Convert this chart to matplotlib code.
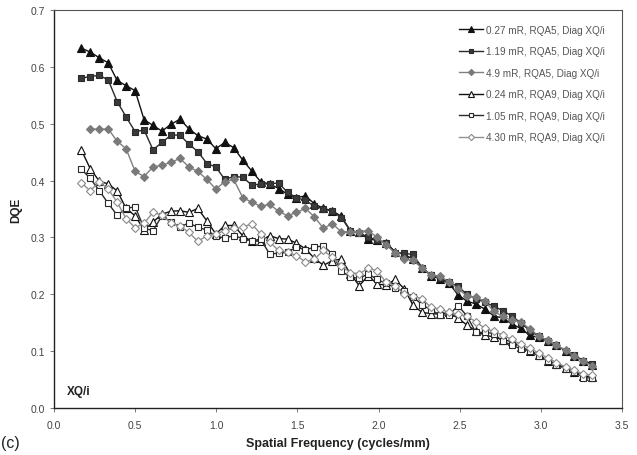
import numpy as np
import matplotlib.pyplot as plt

plt.rcParams['font.family'] = ['Liberation Sans', 'DejaVu Sans']

freq = [0.168, 0.223, 0.279, 0.334, 0.389, 0.444, 0.500, 0.555, 0.610, 0.665,
        0.721, 0.776, 0.831, 0.886, 0.942, 0.997, 1.052, 1.107, 1.163, 1.218,
        1.273, 1.328, 1.384, 1.439, 1.494, 1.549, 1.605, 1.660, 1.715, 1.770,
        1.826, 1.881, 1.936, 1.991, 2.047, 2.102, 2.157, 2.212, 2.268, 2.323,
        2.378, 2.433, 2.489, 2.544, 2.599, 2.654, 2.710, 2.765, 2.820, 2.875,
        2.931, 2.986, 3.041, 3.096, 3.152, 3.207, 3.262, 3.317]

# RQA5
dqe_027 = [0.633, 0.626, 0.616, 0.607, 0.576, 0.567, 0.558, 0.507, 0.497, 0.487,
           0.499, 0.508, 0.491, 0.479, 0.473, 0.456, 0.467, 0.458, 0.436, 0.417,
           0.398, 0.394, 0.386, 0.376, 0.370, 0.373, 0.359, 0.351, 0.347, 0.337,
           0.312, 0.309, 0.297, 0.295, 0.290, 0.275, 0.270, 0.262, 0.246, 0.233,
           0.227, 0.220, 0.199, 0.188, 0.183, 0.174, 0.162, 0.158, 0.148, 0.140,
           0.128, 0.124, 0.117, 0.110, 0.101, 0.091, 0.083, 0.076]
dqe_119 = [0.580, 0.583, 0.585, 0.577, 0.539, 0.512, 0.486, 0.489, 0.454, 0.467,
           0.480, 0.480, 0.464, 0.451, 0.430, 0.424, 0.402, 0.407, 0.406, 0.392,
           0.394, 0.394, 0.396, 0.379, 0.370, 0.365, 0.355, 0.350, 0.346, 0.335,
           0.312, 0.308, 0.300, 0.296, 0.291, 0.273, 0.272, 0.270, 0.247, 0.234,
           0.228, 0.221, 0.214, 0.200, 0.192, 0.186, 0.179, 0.171, 0.162, 0.150,
           0.136, 0.126, 0.118, 0.110, 0.101, 0.093, 0.083, 0.078]
dqe_49 = [np.nan, 0.491, 0.490, 0.491, 0.469, 0.456, 0.416, 0.407, 0.424, 0.427,
          0.432, 0.439, 0.424, 0.416, 0.402, 0.385, 0.398, 0.402, 0.370, 0.362,
          0.355, 0.358, 0.346, 0.338, 0.344, 0.351, 0.336, 0.316, 0.324, 0.310,
          0.310, 0.310, 0.312, 0.300, 0.287, 0.272, 0.262, 0.260, 0.246, 0.234,
          0.232, 0.222, 0.210, 0.197, 0.195, 0.188, 0.170, 0.161, 0.154, 0.152,
          0.139, 0.127, 0.119, 0.110, 0.102, 0.091, 0.082, 0.074]
# RQA9
dqe_024 = [0.454, 0.421, 0.399, 0.394, 0.382, 0.351, 0.338, 0.313, 0.327, 0.341,
           0.346, 0.347, 0.344, 0.351, 0.329, 0.306, 0.321, 0.321, 0.303, 0.293,
           0.294, 0.303, 0.298, 0.297, 0.290, 0.280, 0.263, 0.251, 0.259, 0.262,
           0.236, 0.215, 0.233, 0.218, 0.216, 0.226, 0.210, 0.181, 0.168, 0.166,
           0.165, 0.168, 0.158, 0.146, 0.135, 0.128, 0.125, 0.120, 0.117, 0.108,
           0.100, 0.094, 0.083, 0.078, 0.070, 0.064, 0.056, 0.055]
dqe_105 = [0.420, 0.404, 0.382, 0.360, 0.339, 0.351, 0.354, 0.316, 0.312, 0.338,
           0.327, 0.319, 0.325, 0.318, 0.313, 0.302, 0.299, 0.303, 0.298, 0.294,
           0.297, 0.271, 0.272, 0.274, 0.283, 0.278, 0.283, 0.285, 0.271, 0.241,
           0.230, 0.228, 0.236, 0.226, 0.219, 0.211, 0.205, 0.195, 0.182, 0.172,
           0.164, 0.163, 0.180, 0.162, 0.133, 0.133, 0.131, 0.117, 0.111, 0.104,
           0.101, 0.091, 0.083, 0.076, 0.069, 0.064, 0.053, 0.053]
dqe_430 = [0.396, 0.382, 0.398, 0.385, 0.362, 0.333, 0.317, 0.325, 0.344, 0.339,
           0.325, 0.320, 0.309, 0.293, 0.303, 0.306, 0.312, 0.316, 0.318, 0.324,
           0.306, 0.292, 0.277, 0.274, 0.268, 0.257, 0.262, 0.277, 0.265, 0.250,
           0.238, 0.236, 0.246, 0.241, 0.221, 0.215, 0.200, 0.197, 0.192, 0.177,
           0.174, 0.168, 0.165, 0.161, 0.152, 0.140, 0.135, 0.128, 0.121, 0.112,
           0.105, 0.097, 0.088, 0.080, 0.072, 0.066, 0.060, 0.058]

series = [dqe_027, dqe_119, dqe_49, dqe_024, dqe_105, dqe_430]
labels = ['0.27 mR, RQA5, Diag XQ/i', '1.19 mR, RQA5, Diag XQ/i',
          '4.9 mR, RQA5, Diag XQ/i', '0.24 mR, RQA9, Diag XQ/i',
          '1.05 mR, RQA9, Diag XQ/i', '4.30 mR, RQA9, Diag XQ/i']
markers = ['^', 's', 'D', '^', 's', 'D']
line_cols = ['#111111', '#2a2a2a', '#808080', '#111111', '#2a2a2a', '#909090']
face_cols = ['#111111', '#3a3a3a', '#7a7a7a', 'white', 'white', 'white']
edge_cols = ['#111111', '#2a2a2a', '#7a7a7a', '#111111', '#2a2a2a', '#8a8a8a']
msizes = [5.5, 4.8, 4.2, 5.5, 4.8, 4.2]

fig = plt.figure(figsize=(6.37, 4.56), dpi=100)
ax = fig.add_axes([0.0848, 0.1031, 0.8917, 0.8728])

for y, lab, m, lc, fc, ec, ms in zip(series, labels, markers, line_cols,
                                     face_cols, edge_cols, msizes):
    ax.plot(freq, y, color=lc, lw=1.0, marker=m, markersize=ms,
            markerfacecolor=fc, markeredgecolor=ec, markeredgewidth=0.8,
            label=lab)

ax.set_xlim(0, 3.5)
ax.set_ylim(0, 0.7)
ax.set_xticks(np.arange(0, 3.51, 0.5))
ax.set_yticks(np.arange(0, 0.71, 0.1))
ax.xaxis.set_major_formatter(plt.FormatStrFormatter('%.1f'))
ax.yaxis.set_major_formatter(plt.FormatStrFormatter('%.1f'))
ax.tick_params(labelsize=7.5, labelcolor='#444444', color='#666666',
               length=3, width=0.6, direction='out')
ax.tick_params(axis='x', pad=6)

for s in ['left', 'bottom']:
    ax.spines[s].set_color('#222222')
    ax.spines[s].set_linewidth(1.0)
for s in ['top', 'right']:
    ax.spines[s].set_color('#555555')
    ax.spines[s].set_linewidth(0.8)

ax.set_xlabel('Spatial Frequency (cycles/mm)', fontsize=9, fontweight='bold',
              color='#222222', labelpad=5)
ax.set_ylabel('DQE', fontsize=8.5, fontweight='bold', color='#222222',
              labelpad=6)

ax.text(0.023, 0.035, 'XQ/i', fontsize=8.5, fontweight='bold',
        color='#222222', transform=ax.transAxes)
fig.text(0.002, 0.018, '(c)', fontsize=11.5, color='#222222')

leg = ax.legend(loc='upper right', bbox_to_anchor=(0.985, 0.985),
                frameon=False, fontsize=7.2, handlelength=2.4,
                handletextpad=0.3, labelspacing=1.15, numpoints=1,
                markerscale=0.75)
for t in leg.get_texts():
    t.set_color('#555555')

fig.savefig('out.png', dpi=100)
